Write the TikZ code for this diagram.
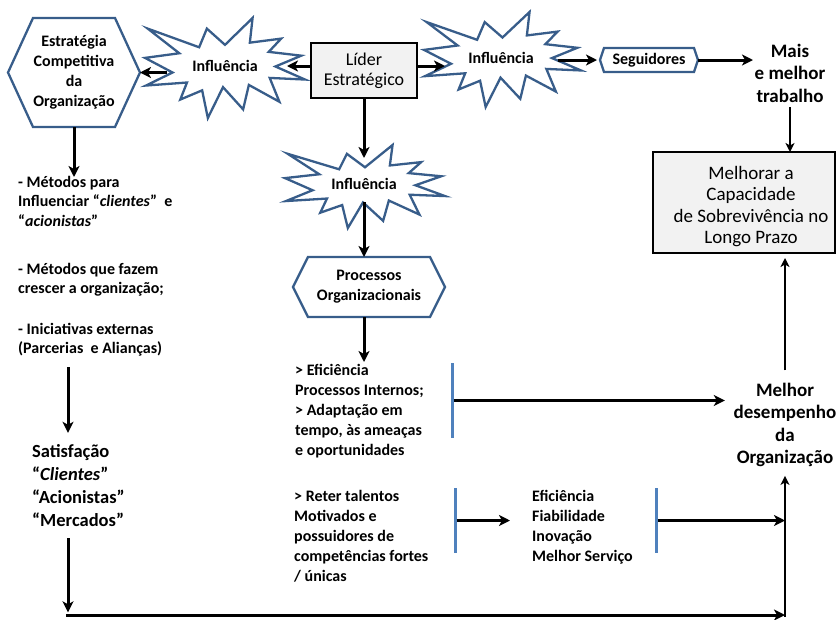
\documentclass[tikz,border=0pt]{standalone}
\usepackage{fontspec}
\setmainfont{Carlito}
\usetikzlibrary{arrows.meta}

\definecolor{shapeblue}{RGB}{56,93,138}
\definecolor{barblue}{RGB}{79,129,189}
\definecolor{boxgray}{RGB}{242,242,242}

\newcommand\setfs[2]{\fontsize{#1}{#2}\selectfont}
\newcommand\lblock[2]{\parbox[t]{#1}{\raggedright #2}}
\newcommand\cblock[2]{\parbox[t]{#1}{\centering #2}}

% explosion outline inside the box with top-left corner (#1,#2), width #3, height #4
\newcommand\explosion[4]{%
  \draw[burstline, shift={(#1,#2)}, x=#3pt, y=-#4pt]
    (0.5,0.2685) -- (0.6723,0) -- (0.6553,0.2465) -- (0.8509,0.2063) --
    (0.7733,0.3387) -- (0.9767,0.3767) -- (0.8151,0.4850) -- (1,0.6153) --
    (0.7795,0.5992) -- (0.8400,0.8377) -- (0.6491,0.6693) -- (0.6133,0.9138) --
    (0.4876,0.6914) -- (0.3928,1) -- (0.3572,0.7235) -- (0.2205,0.8156) --
    (0.2624,0.6452) -- (0.0063,0.6753) -- (0.1723,0.5451) -- (0,0.3988) --
    (0.2142,0.3526) -- (0.0171,0.1063) -- (0.3385,0.2926) -- (0.3867,0.1063) -- cycle;}

% hexagon outline around node #1, side points #2 deep
\newcommand\hexoutline[2]{%
  \draw[hexline] (#1.west) -- ([xshift=#2pt]#1.north west) -- ([xshift=-#2pt]#1.north east)
    -- (#1.east) -- ([xshift=-#2pt]#1.south east) -- ([xshift=#2pt]#1.south west) -- cycle;}

\tikzset{
  burstline/.style={draw=shapeblue, line width=2.3pt, fill=white},
  hexline/.style={draw=shapeblue, line width=2.3pt},
  bursttext/.style={inner sep=0pt, font=\bfseries\setfs{16}{19.5}},
  hexnode/.style={inner sep=0pt, outer sep=0pt, font=\bfseries\setfs{16}{20}},
  graybox/.style={draw=black, fill=boxgray, line width=2.3pt, inner sep=0pt, outer sep=0pt},
  smalltext/.style={inner sep=0pt, anchor=base west, font=\bfseries\setfs{16}{19.5}},
  midtext/.style={inner sep=0pt, anchor=base west, font=\bfseries\setfs{16}{20}},
  bigtext/.style={inner sep=0pt, anchor=base, font=\bfseries\setfs{19}{22.5}},
  blueBar/.style={fill=barblue, inner sep=0pt, outer sep=0pt, minimum width=3pt},
  arr/.style={line width=3pt, -{Stealth[length=11pt,width=11pt,inset=3pt]}},
  thinarr/.style={line width=2pt, -{Stealth[length=9pt,width=9pt,inset=2.5pt]}},
}

\begin{document}
\begin{tikzpicture}[x=1pt, y=-1pt]
\useasboundingbox (0,0) rectangle (836,619);

% explosions
\explosion{145}{18}{160}{100}
\explosion{424}{12}{157}{95}
\explosion{285}{145}{160}{83}
\node[bursttext] (s1) at (225,66) {Influência};
\node[bursttext] (s2) at (501,57.5) {Influência};
\node[bursttext] (s3) at (364,184) {Influência};

% boxes and hexagons
\node[hexnode, minimum width=132pt, minimum height=109pt] (strat) at (74,72.5)
  {\cblock{120pt}{Estratégia\\Competitiva\\da\\Organização}};
\hexoutline{strat}{25}

\node[graybox, minimum width=106pt, minimum height=55pt, font=\setfs{18}{20}] (lider) at (364,70.5)
  {\cblock{100pt}{Líder\\Estratégico}};

\node[hexnode, minimum width=98pt, minimum height=24pt] (seg) at (649,60) {Seguidores};
\hexoutline{seg}{4}

\node[bigtext] (mais) at (790,57) {\cblock{100pt}{Mais\\e melhor\\trabalho}};

\node[graybox, minimum width=182pt, minimum height=101pt] (cap) at (744,202.5) {};
\node[inner sep=0pt, anchor=base, font=\setfs{19}{21.5}] (captxt) at (751,179)
  {\cblock{180pt}{Melhorar a\\Capacidade\\de Sobrevivência no\\Longo Prazo}};

\node[hexnode, minimum width=152pt, minimum height=60pt] (proc) at (369,287)
  {\cblock{140pt}{Processos\\Organizacionais}};
\hexoutline{proc}{15}

% text blocks
\node[smalltext] (mt1) at (18,187)
  {\lblock{200pt}{- Métodos para\\Influenciar “\textit{clientes}”~ e\\“\textit{acionistas}”}};
\node[smalltext] (mt2) at (18,274)
  {\lblock{200pt}{- Métodos que fazem\\crescer a organização;}};
\node[smalltext] (mt3) at (18,334)
  {\lblock{200pt}{- Iniciativas externas\\(Parcerias~ e Alianças)}};
\node[inner sep=0pt, anchor=base west, font=\bfseries\setfs{18.5}{23}] (sat) at (32,457)
  {\lblock{150pt}{Satisfação\\“\textit{Clientes}”\\“Acionistas”\\“Mercados”}};

\node[midtext] (eff) at (295,375)
  {\lblock{160pt}{> Eficiência\\Processos Internos;\\> Adaptação em\\tempo, às ameaças\\e oportunidades}};
\node[midtext] (ret) at (294,501)
  {\lblock{160pt}{> Reter talentos\\Motivados e\\possuidores de\\competências fortes\\/ únicas}};
\node[midtext] (ben) at (532,501)
  {\lblock{120pt}{Eficiência\\Fiabilidade\\Inovação\\Melhor Serviço}};

\node[bigtext] (desemp) at (785,396) {\cblock{120pt}{Melhor\\desempenho\\da\\Organização}};

% blue bars
\node[blueBar, minimum height=75pt] (bar1) at (452,400.5) {};
\node[blueBar, minimum height=65pt] (bar2) at (455,520.5) {};
\node[blueBar, minimum height=65pt] (bar3) at (656,520.5) {};

% connectors, top row
\draw[arr] ([yshift=4.5pt]lider.west) -- ++(-24,0);
\draw[arr] (strat.east) ++(27,0) -- (strat.east);
\draw[arr] ([yshift=4.5pt]lider.east) -- ++(28,0);
\draw[arr, shorten >=3pt] (seg.west) ++(-42,0) -- (seg.west);
\draw[arr] (seg.east) -- ++(55,0);
\draw[thinarr] (mais.south) ++(0,5) coordinate (m1) -- (m1 |- cap.north);

% centre column
\draw[arr] (lider.south) -- ++(0,60);
\draw[arr] (proc.north -| lider) ++(0,-55) -- (proc.north -| lider);
\draw[arr] (proc.south -| lider) -- ++(0,45);

% left column
\draw[arr] (strat.south) -- ++(0,50);
\draw[arr, shorten >=11pt] (mt3.south west) ++(50,11) coordinate (p1) -- (p1 |- sat.north);
\draw[arr] (sat.south west) ++(36,12) -- ++(0,74);
\coordinate (corner) at (66,615);
\draw[arr] (corner) -- (corner -| desemp);

% right column
\draw[thinarr] (corner -| desemp) ++(0,1.5) -- ([yshift=-9pt]desemp.south);
\draw[thinarr, shorten >=5pt] (desemp.north) ++(0,-12) coordinate (d1) -- (d1 |- cap.south);

% bars to results
\draw[arr] (bar1) -- (bar1 -| desemp.west);
\draw[arr, shorten >=22pt] (bar2) -- (bar2 -| ben.west);
\draw[arr] (bar3) -- (bar3 -| desemp);
\end{tikzpicture}
\end{document}
